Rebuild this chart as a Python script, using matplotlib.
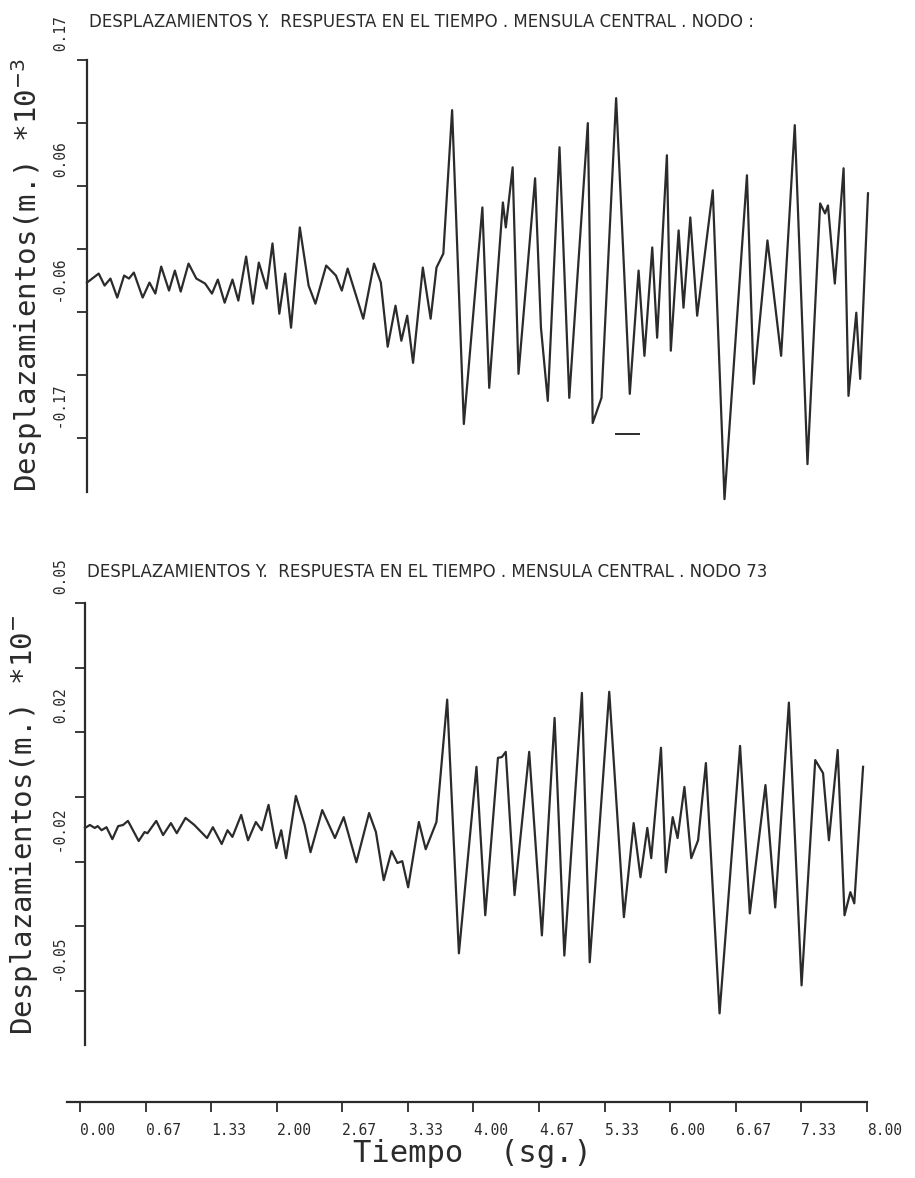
import numpy as np
import matplotlib
matplotlib.use("Agg")
from matplotlib import pyplot as plt
from matplotlib import transforms

# time (s) and displacement readings, top plot (node ?)
t_top = [0.00, 0.12, 0.18, 0.24, 0.31, 0.38, 0.43, 0.48, 0.57, 0.64, 0.70, 0.76,
         0.84, 0.90, 0.96, 1.04, 1.12, 1.21, 1.28, 1.34, 1.41, 1.49, 1.55, 1.63,
         1.70, 1.76, 1.84, 1.90, 1.97, 2.03, 2.09, 2.18, 2.27, 2.34, 2.45, 2.55,
         2.61, 2.67, 2.83, 2.94, 3.01, 3.08, 3.16, 3.22, 3.28, 3.34, 3.44, 3.52,
         3.58, 3.65, 3.74, 3.86, 4.05, 4.12, 4.26, 4.29, 4.36, 4.42, 4.59, 4.65,
         4.72, 4.84, 4.94, 5.13, 5.18, 5.27, 5.42, 5.56, 5.65, 5.71, 5.79, 5.84,
         5.94, 5.98, 6.06, 6.11, 6.18, 6.25, 6.41, 6.53, 6.76, 6.83, 6.97, 7.11,
         7.25, 7.38, 7.51, 7.56, 7.59, 7.66, 7.75, 7.80, 7.88, 7.92, 8.00]
d_top = [-0.0302, -0.0221, -0.0329, -0.0266, -0.0437, -0.0239, -0.0266, -0.0212,
         -0.0437, -0.0302, -0.0401, -0.0158, -0.0374, -0.0194, -0.0383, -0.0131,
         -0.0266, -0.0311, -0.0401, -0.0275, -0.0483, -0.0275, -0.0464, -0.0068,
         -0.0492, -0.0122, -0.0356, 0.0050, -0.0582, -0.0221, -0.0708, 0.0194,
         -0.0329, -0.0492, -0.0149, -0.0239, -0.0374, -0.0176, -0.0627, -0.0131,
         -0.0302, -0.0879, -0.0510, -0.0825, -0.0600, -0.1024, -0.0167, -0.0627,
         -0.0167, -0.0041, 0.1249, -0.1574, 0.0374, -0.1249, 0.0419, 0.0194,
         0.0735, -0.1123, 0.0636, -0.0708, -0.1366, 0.0915, -0.1339, 0.1132,
         -0.1565, -0.1339, 0.1357, -0.1303, -0.0194, -0.0961, 0.0014, -0.0798,
         0.0843, -0.0915, 0.0167, -0.0528, 0.0284, -0.0600, 0.0528, -0.2250,
         0.0663, -0.1213, 0.0077, -0.0961, 0.1114, -0.1935, 0.0410, 0.0320,
         0.0392, -0.0311, 0.0726, -0.1321, -0.0573, -0.1168, 0.0501]

# stray pen mark under the top curve
t_mark = [5.42, 5.65]
d_mark = [-0.1664, -0.1664]

# bottom plot (node 73)
t_bot = [0.00, 0.05, 0.10, 0.13, 0.17, 0.22, 0.28, 0.34, 0.39, 0.44, 0.55, 0.61,
         0.64, 0.73, 0.80, 0.88, 0.94, 1.03, 1.12, 1.25, 1.31, 1.40, 1.46, 1.51,
         1.60, 1.67, 1.75, 1.81, 1.88, 1.96, 2.01, 2.06, 2.16, 2.25, 2.31, 2.43,
         2.56, 2.65, 2.78, 2.91, 2.98, 3.06, 3.14, 3.20, 3.25, 3.31, 3.42, 3.49,
         3.60, 3.71, 3.83, 4.01, 4.10, 4.23, 4.27, 4.31, 4.40, 4.55, 4.68, 4.81,
         4.91, 5.09, 5.17, 5.37, 5.52, 5.62, 5.69, 5.76, 5.80, 5.90, 5.95, 6.02,
         6.07, 6.14, 6.21, 6.28, 6.36, 6.50, 6.71, 6.81, 6.97, 7.07, 7.21, 7.34,
         7.48, 7.56, 7.62, 7.71, 7.78, 7.84, 7.88, 7.97]
d_bot = [-0.0083, -0.0075, -0.0083, -0.0078, -0.0089, -0.0081, -0.0113, -0.0078,
         -0.0075, -0.0064, -0.0118, -0.0094, -0.0097, -0.0064, -0.0102, -0.0070,
         -0.0097, -0.0056, -0.0075, -0.0110, -0.0081, -0.0126, -0.0089, -0.0107,
         -0.0048, -0.0116, -0.0067, -0.0089, -0.0021, -0.0137, -0.0089, -0.0164,
         0.0003, -0.0075, -0.0148, -0.0035, -0.0110, -0.0054, -0.0175, -0.0043,
         -0.0094, -0.0223, -0.0145, -0.0177, -0.0172, -0.0242, -0.0067, -0.0140,
         -0.0067, 0.0261, -0.0419, 0.0081, -0.0317, 0.0105, 0.0107, 0.0121,
         -0.0263, 0.0121, -0.0371, 0.0212, -0.0425, 0.0279, -0.0443, 0.0282,
         -0.0322, -0.0070, -0.0215, -0.0083, -0.0164, 0.0132, -0.0202, -0.0054,
         -0.0110, 0.0027, -0.0164, -0.0116, 0.0091, -0.0580, 0.0137, -0.0312,
         0.0032, -0.0296, 0.0253, -0.0505, 0.0099, 0.0064, -0.0116, 0.0126,
         -0.0317, -0.0255, -0.0285, 0.0081]

top_max = 0.17
bot_max = 0.052
time_ticks = [0, 2/3, 4/3, 2, 8/3, 10/3, 4, 14/3, 16/3, 6, 20/3, 22/3, 8]

W, H = 915, 1178
ink = "#2b2b2b"
mono = ["DejaVu Sans Mono"]
plain = ["DejaVu Sans"]

fig = plt.figure(figsize=(W / 100, H / 100), dpi=100)
fig.patch.set_facecolor("white")


def px_axes(x0, y0, x1, y1):
    return fig.add_axes([x0 / W, 1 - y1 / H, (x1 - x0) / W, (y1 - y0) / H])


def setup_panel(ax, vmax, ybottom):
    ax.set_xlim(0, 8)
    ax.set_ylim(ybottom, vmax)
    for s in ["top", "right", "bottom"]:
        ax.spines[s].set_visible(False)
    ax.spines["left"].set_color(ink)
    ax.spines["left"].set_linewidth(1.6)
    ax.set_xticks([])
    ticks = [vmax * (1 - k / 3) for k in range(7)]
    ax.set_yticks(ticks)
    ax.set_yticklabels([])
    ax.tick_params(axis="y", direction="out", length=7, width=1.3, color=ink)
    trans = transforms.blended_transform_factory(fig.transFigure, ax.transData)
    for k in range(0, 7, 2):
        ax.text(62 / W, ticks[k], " %.2f" % ticks[k], transform=trans,
                rotation=90, ha="center", va="bottom", fontsize=10.5,
                family=mono, color=ink)


# top panel
ax1 = px_axes(87, 60, 868, 492)
setup_panel(ax1, top_max, top_max - 432 * top_max / 189)
ax1.plot(t_top, d_top, color=ink, lw=1.6, clip_on=False, solid_joinstyle="round")
ax1.plot(t_mark, d_mark, color=ink, lw=1.4, clip_on=False)

# bottom panel
ax2 = px_axes(85, 603, 866, 1045)
setup_panel(ax2, bot_max, -bot_max - 54 * 2 * bot_max / 388)
ax2.plot(t_bot, d_bot, color=ink, lw=1.6, clip_on=False, solid_joinstyle="round")

# separate time axis
ax3 = px_axes(67, 1060, 867, 1102)
ax3.set_xlim(-8 * 13 / 787, 8)
ax3.set_ylim(0, 1)
for s in ["top", "right", "left"]:
    ax3.spines[s].set_visible(False)
ax3.spines["bottom"].set_color(ink)
ax3.spines["bottom"].set_linewidth(1.6)
ax3.set_yticks([])
ax3.set_xticks(time_ticks)
ax3.set_xticklabels(["%.2f" % v for v in time_ticks], ha="left",
                    fontsize=10.5, family=mono, color=ink)
ax3.tick_params(axis="x", direction="out", length=7, width=1.3, color=ink, pad=8)
ax3.patch.set_alpha(0)

# titles and axis labels
fig.text(89 / W, 1 - 22 / H,
         "DESPLAZAMIENTOS Y.  RESPUESTA EN EL TIEMPO . MENSULA CENTRAL . NODO :",
         ha="left", va="center", fontsize=12, family=plain, color=ink)
fig.text(87 / W, 1 - 572 / H,
         "DESPLAZAMIENTOS Y.  RESPUESTA EN EL TIEMPO . MENSULA CENTRAL . NODO 73",
         ha="left", va="center", fontsize=12, family=plain, color=ink)
fig.text(27 / W, 1 - 275 / H, "Desplazamientos(m.) *10$^{-3}$", rotation=90,
         ha="center", va="center", fontsize=21, family=mono, color=ink)
fig.text(24 / W, 1 - 825 / H, "Desplazamientos(m.) *10$^{-}$", rotation=90,
         ha="center", va="center", fontsize=21, family=mono, color=ink)
fig.text(472 / W, 1 - 1154 / H, "Tiempo  (sg.)", ha="center", va="center",
         fontsize=22, family=mono, color=ink)

fig.savefig("out.png", dpi=100, facecolor="white")
